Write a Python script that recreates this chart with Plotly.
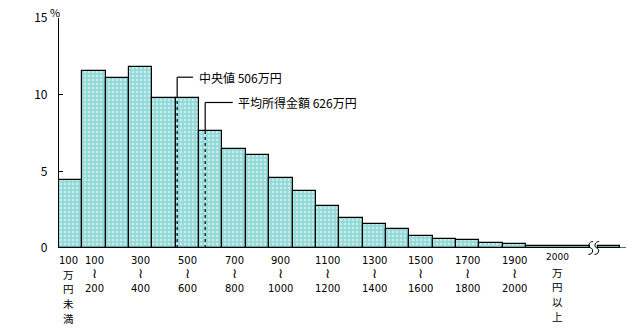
import plotly.graph_objects as go

# ---- data (income in 万円, share in %) ----
bin_start = [0, 100, 200, 300, 400, 500, 600, 700, 800, 900, 1000,
             1100, 1200, 1300, 1400, 1500, 1600, 1700, 1800, 1900]
share = [4.44, 11.57, 11.06, 11.83, 9.78, 9.78, 7.66, 6.44, 6.07, 4.57,
         3.74, 2.77, 1.94, 1.55, 1.23, 0.78, 0.59, 0.53, 0.33, 0.27]
over2000_share = 0.15
median_val = 506
mean_val = 626
median_label = "中央値 506万円"
mean_label = "平均所得金額 626万円"
tick_lines = [["100", "万", "円", "未", "満"],
              ["100", "≀", "200"], ["300", "≀", "400"], ["500", "≀", "600"],
              ["700", "≀", "800"], ["900", "≀", "1000"], ["1100", "≀", "1200"],
              ["1300", "≀", "1400"], ["1500", "≀", "1600"], ["1700", "≀", "1800"],
              ["1900", "≀", "2000"], ["2000", "万", "円", "以", "上"]]
tick_pos = [40, 150, 350, 550, 750, 950, 1150, 1350, 1550, 1750, 1950, 2133]
y_ticks = [0, 5, 10, 15]

FONT = "Noto Sans CJK JP"
NUMFONT = "DejaVu Sans"
FILL = "#94d9d9"
XMAX = 2428
BREAK0, BREAK1 = 2274, 2308

# pixel geometry helpers (plot area: top 15px, bottom 248.5px)
PT, PB = 15.0, 248.5


def py(pix):
    return (PB - pix) / (PB - PT)


fig = go.Figure()

pattern = dict(shape=".", fgcolor="#ffffff", bgcolor=FILL, size=4, solidity=0.3)

fig.add_trace(go.Bar(
    x=[s + 50 for s in bin_start], y=share, width=[100] * len(share),
    marker=dict(color=FILL, pattern=pattern, line=dict(color="black", width=1.2)),
    hoverinfo="skip", showlegend=False))

# 2000万円以上 (drawn across the broken axis)
seg_a = (2000, BREAK0)
seg_b = (BREAK1, 2403)
fig.add_trace(go.Bar(
    x=[(seg_a[0] + seg_a[1]) / 2, (seg_b[0] + seg_b[1]) / 2],
    y=[over2000_share, over2000_share],
    width=[seg_a[1] - seg_a[0], seg_b[1] - seg_b[0]],
    marker=dict(color=FILL, pattern=pattern, line=dict(color="black", width=1.2)),
    hoverinfo="skip", showlegend=False))

shapes = []
# x axis line with break
shapes.append(dict(type="line", xref="x", yref="y", x0=0, x1=BREAK0, y0=0, y1=0,
                   line=dict(color="black", width=1.2)))
shapes.append(dict(type="line", xref="x", yref="y", x0=BREAK1, x1=XMAX, y0=0, y1=0,
                   line=dict(color="black", width=1.2)))
# break squiggles (paper y so they are not clipped below the axis)
H = 0.028
for bx in (BREAK0 + 3, BREAK1 - 5):
    path = (f"M {bx + 10},{H} C {bx - 12},{H} {bx - 12},{H * 0.1} {bx},0 "
            f"C {bx + 12},{-H * 0.1} {bx + 12},{-H} {bx - 10},{-H}")
    shapes.append(dict(type="path", xref="x", yref="paper", path=path,
                       line=dict(color="black", width=1)))

# median / mean leader lines
med_top = share[5]
mean_top = share[6]
med_lab_y = 11.14
mean_lab_y = 9.49
for xv, top, ly, xe in ((median_val, med_top, med_lab_y, 574),
                        (mean_val, mean_top, mean_lab_y, 744)):
    shapes.append(dict(type="line", xref="x", yref="y", x0=xv, x1=xv, y0=0, y1=top,
                       line=dict(color="black", width=1.2, dash="dot")))
    shapes.append(dict(type="line", xref="x", yref="y", x0=xv, x1=xv, y0=top, y1=ly,
                       line=dict(color="black", width=1.2)))
    shapes.append(dict(type="line", xref="x", yref="y", x0=xv, x1=xe, y0=ly, y1=ly,
                       line=dict(color="black", width=1.2)))

annotations = [
    dict(x=591, y=med_lab_y, xref="x", yref="y", text=median_label, showarrow=False,
         xanchor="left", yanchor="middle", font=dict(size=12, family=FONT, color="black")),
    dict(x=758, y=mean_lab_y, xref="x", yref="y", text=mean_label, showarrow=False,
         xanchor="left", yanchor="middle", font=dict(size=12, family=FONT, color="black")),
    dict(x=-0.007, y=py(9), xref="paper", yref="paper", text="%", showarrow=False,
         xanchor="center", yanchor="middle", font=dict(size=11, family=FONT, color="black")),
]

rows_range = [261, 273.5, 289.5]
rows_vert = [261, 275, 290, 305, 320]
rows_last = [258, 273, 288, 303, 318]
for i, (lines, p) in enumerate(zip(tick_lines, tick_pos)):
    if i == len(tick_lines) - 1:
        rows = rows_last
    elif len(lines) == 5:
        rows = rows_vert
    else:
        rows = rows_range
    for j, (t, r) in enumerate(zip(lines, rows)):
        if t == "≀":
            fnt = dict(size=14, family=NUMFONT, color="black")
        elif t.isdigit():
            sz = 9 if (i == len(tick_lines) - 1) else 10
            fnt = dict(size=sz, family=NUMFONT, color="black")
        else:
            fnt = dict(size=10.5, family=FONT, color="black")
        annotations.append(dict(x=p, y=py(r), xref="x", yref="paper", text=t,
                                showarrow=False, xanchor="center", yanchor="middle",
                                font=fnt))

fig.update_layout(
    width=634, height=332,
    margin=dict(l=59, r=8, t=15, b=83.5),
    paper_bgcolor="white", plot_bgcolor="white",
    bargap=0, shapes=shapes, annotations=annotations,
    xaxis=dict(range=[0, XMAX], showgrid=False, zeroline=False, showline=False,
               showticklabels=False, ticks=""),
    yaxis=dict(range=[0, 15], showgrid=False, zeroline=False, showline=True,
               linecolor="black", linewidth=1.2, ticks="inside", ticklen=4,
               tickcolor="black", tickvals=y_ticks, ticklabelstandoff=8,
               tickfont=dict(size=12, family=FONT, color="black")),
)

fig.write_html("out.html")
